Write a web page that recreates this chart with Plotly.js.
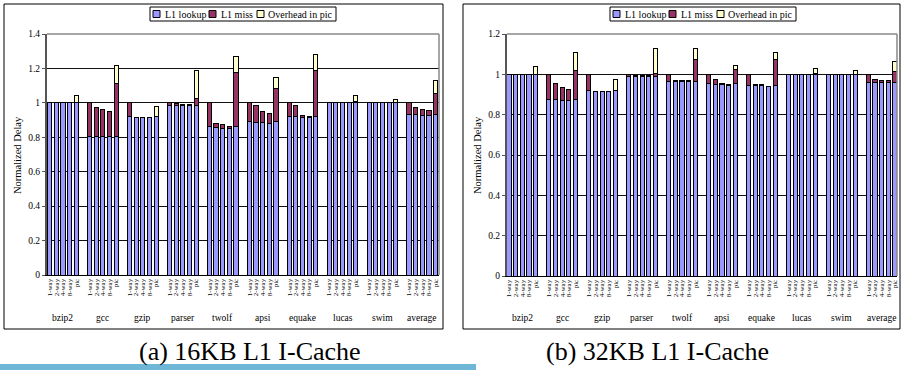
<!DOCTYPE html>
<html>
<head>
<meta charset="utf-8">
<script src="https://cdn.plot.ly/plotly-3.0.1.min.js"></script>
<style>html,body{margin:0;padding:0;background:#fff;}#chart{width:902px;height:370px;}</style>
</head>
<body>
<div id="chart"></div>
<script>
// ---- data ----
const benchmarks = ['bzip2','gcc','gzip','parser','twolf','apsi','equake','lucas','swim','average'];
const configs = ['1-way','2-way','4-way','8-way','pic'];
const seriesNames = ['L1 lookup','L1 miss','Overhead in pic'];

// 16KB L1 I-Cache (segment heights, 5 configs per benchmark)
const lookup16 = [
  1,1,1,1,1,
  0.805,0.805,0.805,0.805,0.805,
  0.922,0.914,0.914,0.914,0.922,
  0.985,0.985,0.985,0.985,0.985,
  0.863,0.858,0.853,0.852,0.863,
  0.892,0.888,0.887,0.882,0.892,
  0.923,0.918,0.913,0.914,0.923,
  1,1,1,1,1,
  1,1,1,1,1,
  0.935,0.930,0.928,0.928,0.935
];
const miss16 = [
  0,0,0,0,0,
  0.195,0.170,0.155,0.147,0.310,
  0.078,0.002,0.002,0.002,0,
  0.015,0.012,0.007,0.007,0.038,
  0.137,0.024,0.019,0.009,0.315,
  0.108,0.097,0.063,0.054,0.193,
  0.077,0.067,0.014,0.004,0.265,
  0,0,0,0,0.010,
  0,0,0,0,0,
  0.065,0.043,0.032,0.026,0.121
];
const over16 = [
  0,0,0,0,0.040,
  0,0,0,0,0.102,
  0,0,0,0,0.058,
  0,0,0,0,0.163,
  0,0,0,0,0.092,
  0,0,0,0,0.060,
  0,0,0,0,0.092,
  0,0,0,0,0.030,
  0,0,0,0,0.020,
  0,0,0,0,0.076
];

// 32KB L1 I-Cache
const lookup32 = [
  1,1,1,1,1,
  0.875,0.875,0.872,0.872,0.875,
  0.920,0.915,0.915,0.915,0.920,
  0.990,0.990,0.990,0.990,0.990,
  0.966,0.965,0.965,0.965,0.966,
  0.954,0.952,0.952,0.947,0.954,
  0.946,0.943,0.943,0.940,0.946,
  1,1,1,1,1,
  1,1,1,1,1,
  0.958,0.958,0.958,0.958,0.958
];
const miss32 = [
  0,0,0,0,0,
  0.125,0.082,0.064,0.053,0.143,
  0.080,0.002,0.002,0.002,0.002,
  0.010,0.003,0.003,0.002,0.012,
  0.034,0.004,0.004,0.004,0.109,
  0.046,0.022,0.005,0.002,0.072,
  0.054,0.005,0.005,0.001,0.126,
  0,0,0,0,0.005,
  0,0,0,0,0,
  0.042,0.016,0.011,0.009,0.057
];
const over32 = [
  0,0,0,0,0.039,
  0,0,0,0,0.092,
  0,0,0,0,0.052,
  0,0,0,0,0.126,
  0,0,0,0,0.053,
  0,0,0,0,0.020,
  0,0,0,0,0.038,
  0,0,0,0,0.026,
  0,0,0,0,0.018,
  0,0,0,0,0.051
];

const colors = ['#9999ff','#993366','#ffffcc'];
const FONT = 'Liberation Serif';

// x positions: one slot gap between benchmark groups
const xs = [], tickText = [];
benchmarks.forEach((b, g) => configs.forEach((c, j) => { xs.push(g * 6 + j); tickText.push(c); }));
const groupCenters = benchmarks.map((b, g) => g * 6 + 2);

function mk(vals, i, xa, ya) {
  return {
    type: 'bar', x: xs, y: vals, name: seriesNames[i], xaxis: xa, yaxis: ya,
    width: 0.62, showlegend: false,
    marker: {color: colors[i], line: {color: '#000', width: 1}},
    hoverinfo: 'y+name'
  };
}
const data = [
  mk(lookup16, 0, 'x', 'y'), mk(miss16, 1, 'x', 'y'), mk(over16, 2, 'x', 'y'),
  mk(lookup32, 0, 'x2', 'y2'), mk(miss32, 1, 'x2', 'y2'), mk(over32, 2, 'x2', 'y2')
];

const W = 902, H = 370;
const px = v => v / W, py = v => 1 - v / H;

function xax(dom, rng, anchor) {
  return {
    domain: dom, range: rng, anchor: anchor,
    tickmode: 'array', tickvals: xs, ticktext: tickText, tickangle: -90,
    tickfont: {family: FONT, size: 7, color: '#000'},
    showgrid: false, zeroline: false, showline: true, linecolor: '#000', linewidth: 1,
    ticks: '', fixedrange: true
  };
}
function yax(dom, rng, anchor) {
  return {
    domain: dom, range: rng, anchor: anchor, dtick: 0.2,
    tickfont: {family: FONT, size: 9.5, color: '#000'},
    showgrid: true, gridcolor: '#111', gridwidth: 1, zeroline: false,
    showline: true, linecolor: '#555', linewidth: 2,
    ticks: 'outside', ticklen: 3, tickcolor: '#555', fixedrange: true
  };
}

const shapes = [];
const annotations = [];
// outer panel frames
[[4, 443], [463, 900]].forEach(([a, b]) => shapes.push({
  type: 'rect', xref: 'paper', yref: 'paper', x0: px(a), x1: px(b), y0: py(329), y1: py(4),
  line: {color: '#000', width: 1}, fillcolor: 'rgba(0,0,0,0)', layer: 'below'
}));
// plot-area top and right borders
[['x', 'y'], ['x2', 'y2']].forEach(([xa, ya]) => {
  shapes.push({type: 'line', xref: xa + ' domain', yref: ya + ' domain', x0: 0, x1: 1, y0: 1, y1: 1, line: {color: '#888', width: 1.5}});
  shapes.push({type: 'line', xref: xa + ' domain', yref: ya + ' domain', x0: 1, x1: 1, y0: 0, y1: 1, line: {color: '#888', width: 1.5}});
});
// legends
[0, 460].forEach(off => {
  shapes.push({type: 'rect', xref: 'paper', yref: 'paper', x0: px(150 + off), x1: px(336 + off), y0: py(21), y1: py(7),
    line: {color: '#000', width: 1}, fillcolor: '#fff'});
  const sq = [153, 209, 257], tx = [163, 219, 266];
  seriesNames.forEach((n, i) => {
    shapes.push({type: 'rect', xref: 'paper', yref: 'paper', x0: px(sq[i] + off), x1: px(sq[i] + 7 + off), y0: py(17.5), y1: py(10.5),
      line: {color: '#000', width: 1}, fillcolor: colors[i]});
    annotations.push({xref: 'paper', yref: 'paper', x: px(tx[i] + off), y: py(14), xanchor: 'left', yanchor: 'middle',
      text: n, showarrow: false, font: {family: FONT, size: 10, color: '#000'}});
  });
});
// group labels
['x', 'x2'].forEach(xa => {
  benchmarks.forEach((b, g) => annotations.push({
    xref: xa, yref: 'paper', x: groupCenters[g], y: py(318), xanchor: 'center', yanchor: 'middle',
    text: b, showarrow: false, font: {family: FONT, size: 9.5, color: '#000'}
  }));
});
// y titles
[18, 478].forEach(xx => annotations.push({
  xref: 'paper', yref: 'paper', x: px(xx), y: py(155), xanchor: 'center', yanchor: 'middle', textangle: -90,
  text: 'Normalized Delay', showarrow: false, font: {family: FONT, size: 10.5, color: '#000'}
}));
// captions
annotations.push({xref: 'paper', yref: 'paper', x: px(250), y: py(351), xanchor: 'center', yanchor: 'middle',
  text: '(a) 16KB L1 I-Cache', showarrow: false, font: {family: FONT, size: 26, color: '#000'}});
annotations.push({xref: 'paper', yref: 'paper', x: px(657), y: py(351), xanchor: 'center', yanchor: 'middle',
  text: '(b) 32KB L1 I-Cache', showarrow: false, font: {family: FONT, size: 26, color: '#000'}});
// decorative blue bar at bottom
shapes.push({type: 'rect', xref: 'paper', yref: 'paper', x0: 0, x1: px(476), y0: 0, y1: py(364),
  line: {width: 0}, fillcolor: '#6fb7d6', layer: 'below'});

const layout = {
  width: W, height: H, margin: {l: 0, r: 0, t: 0, b: 0},
  paper_bgcolor: '#fff', plot_bgcolor: '#fff', barmode: 'stack', bargap: 0,
  showlegend: false,
  font: {family: FONT, color: '#000'},
  xaxis: xax([px(47), px(439)], [-0.4, 58.5], 'y'),
  yaxis: yax([py(275), py(34)], [0, 1.4], 'x'),
  xaxis2: xax([px(507), px(897)], [-0.3, 58.3], 'y2'),
  yaxis2: yax([py(276), py(34)], [0, 1.2], 'x2'),
  shapes: shapes, annotations: annotations
};
Plotly.newPlot('chart', data, layout, {displayModeBar: false, staticPlot: true});
</script>
</body>
</html>
